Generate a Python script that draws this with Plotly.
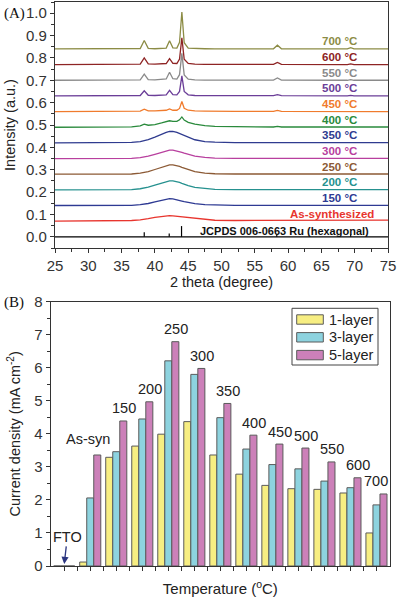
import plotly.graph_objects as go

# ---------------- Panel A : XRD patterns ----------------
two_theta = [25, 30, 35, 36.5, 37.8, 38.4, 39.0, 40.0, 41.0, 41.7, 42.2, 42.7, 43.3, 43.7,
             44.05, 44.4, 45.0, 46.0, 47.5, 49.0, 52, 57.8, 58.4, 59.0, 68.9, 69.4, 69.9, 75]

xrd_labels = ["As-synthesized", "150 °C", "200 °C", "250 °C", "300 °C", "350 °C",
              "400 °C", "450 °C", "500 °C", "550 °C", "600 °C", "700 °C"]
xrd_offsets = [0.07, 0.14, 0.21, 0.28, 0.35, 0.42, 0.49, 0.56, 0.63, 0.70, 0.77, 0.84]
xrd_colors = ["#e8352e", "#2e3a93", "#26918f", "#8c5a35", "#b83f9e", "#2f3b8f",
              "#2a8a3c", "#f07b2d", "#6b3e98", "#8a8a8a", "#8e2424", "#8c8c45"]

int_assyn = [0, 0.001, 0.000, 0.003, 0.006, 0.008, 0.011, 0.017, 0.022, 0.024, 0.025, 0.024, 0.022, 0.020,
             0.019, 0.017, 0.015, 0.012, 0.007, 0.004, 0.003, 0.004, 0.004, 0.004, 0.005, 0.005, 0.005, 0.005]
int_150 = [0, 0, 0, 0.001, 0.004, 0.006, 0.009, 0.016, 0.024, 0.028, 0.031, 0.030, 0.027, 0.023,
           0.020, 0.017, 0.013, 0.008, 0.004, 0.002, 0.001, 0.001, 0.002, 0.001, 0.001, 0.001, 0.001, 0.001]
int_200 = [0, 0, 0, 0.001, 0.005, 0.008, 0.012, 0.021, 0.031, 0.037, 0.040, 0.040, 0.037, 0.033,
           0.029, 0.025, 0.019, 0.011, 0.005, 0.002, 0.001, 0.001, 0.002, 0.001, 0.001, 0.001, 0.001, 0.001]
int_250 = [0, 0, 0, 0.001, 0.005, 0.008, 0.012, 0.021, 0.032, 0.038, 0.042, 0.042, 0.039, 0.035,
           0.031, 0.027, 0.020, 0.012, 0.005, 0.002, 0.001, 0.001, 0.002, 0.001, 0.001, 0.001, 0.001, 0.001]
int_300 = [0, 0, 0, 0.001, 0.004, 0.007, 0.011, 0.019, 0.029, 0.035, 0.038, 0.038, 0.035, 0.031,
           0.028, 0.024, 0.018, 0.011, 0.005, 0.002, 0.001, 0.001, 0.002, 0.001, 0.001, 0.001, 0.001, 0.001]
int_350 = [0, 0, 0, 0.002, 0.006, 0.010, 0.015, 0.026, 0.040, 0.047, 0.051, 0.051, 0.047, 0.042,
           0.038, 0.032, 0.024, 0.014, 0.006, 0.003, 0.001, 0.001, 0.002, 0.001, 0.001, 0.001, 0.001, 0.001]
int_400 = [0, 0, 0, 0.002, 0.006, 0.014, 0.009, 0.012, 0.019, 0.024, 0.029, 0.026, 0.026, 0.033,
           0.046, 0.032, 0.022, 0.014, 0.007, 0.004, 0.002, 0.001, 0.004, 0.001, 0.001, 0.002, 0.001, 0.001]
int_450 = [0, 0, 0, 0.001, 0.002, 0.011, 0.003, 0.003, 0.004, 0.006, 0.012, 0.006, 0.006, 0.014,
           0.045, 0.015, 0.006, 0.003, 0.002, 0.001, 0.001, 0.001, 0.005, 0.001, 0.000, 0.002, 0.000, 0.000]
int_500 = [0, 0, 0, 0.000, 0.002, 0.023, 0.003, 0.002, 0.003, 0.005, 0.025, 0.006, 0.005, 0.020,
           0.090, 0.020, 0.005, 0.002, 0.001, 0.001, 0.000, 0.001, 0.006, 0.001, 0.000, 0.002, 0.000, 0.000]
int_550 = [0, 0, 0, 0.000, 0.002, 0.028, 0.003, 0.002, 0.003, 0.006, 0.036, 0.007, 0.005, 0.025,
           0.120, 0.024, 0.005, 0.002, 0.001, 0.001, 0.000, 0.001, 0.010, 0.001, 0.000, 0.003, 0.000, 0.000]
int_600 = [0, 0, 0, 0.000, 0.002, 0.030, 0.003, 0.002, 0.003, 0.005, 0.027, 0.006, 0.005, 0.025,
           0.120, 0.024, 0.005, 0.002, 0.001, 0.001, 0.000, 0.001, 0.010, 0.001, 0.000, 0.003, 0.000, 0.000]
int_700 = [0, 0, 0, 0.000, 0.002, 0.038, 0.003, 0.001, 0.002, 0.004, 0.037, 0.005, 0.004, 0.030,
           0.165, 0.028, 0.004, 0.002, 0.001, 0.000, 0.000, 0.001, 0.017, 0.001, 0.000, 0.006, 0.000, 0.000]
xrd_intensities = [int_assyn, int_150, int_200, int_250, int_300, int_350,
                   int_400, int_450, int_500, int_550, int_600, int_700]

jcpds_pos = [38.4, 42.15, 44.0, 58.3, 69.4]
jcpds_height = [0.020, 0.015, 0.048, 0.012, 0.012]
jcpds_label = "JCPDS 006-0663 Ru (hexagonal)"

# ---------------- Panel B : current density ----------------
temps = ["FTO", "As-syn", "150", "200", "250", "300", "350", "400", "450", "500", "550", "600", "700"]
layer1 = [0, 0.12, 3.29, 3.63, 3.99, 4.37, 3.36, 2.78, 2.44, 2.34, 2.32, 2.21, 1.00]
layer3 = [0, 2.06, 3.46, 4.45, 6.21, 5.80, 4.49, 3.54, 3.07, 2.94, 2.57, 2.37, 1.85]
layer5 = [0, 3.36, 4.39, 4.97, 6.79, 5.98, 4.92, 3.96, 3.69, 3.57, 3.15, 2.67, 2.18]
series_names = ["1-layer", "3-layer", "5-layer"]
series_colors = ["#f7ee82", "#8dd3df", "#cc80b9"]

FONT = "Liberation Sans, Arial, sans-serif"
W, H = 398, 599


def px_x(p):
    return p / W


def px_y(p):
    return 1 - p / H


fig = go.Figure()

# XRD curves
for lab, off, col, ints in zip(xrd_labels, xrd_offsets, xrd_colors, xrd_intensities):
    fig.add_trace(go.Scatter(x=two_theta, y=[off + v for v in ints], mode="lines",
                             line=dict(color=col, width=1.3), showlegend=False,
                             xaxis="x", yaxis="y", hoverinfo="skip"))

# JCPDS reference sticks
stick_x, stick_y = [], []
for p, h in zip(jcpds_pos, jcpds_height):
    stick_x += [p, p, None]
    stick_y += [0, h, None]
fig.add_trace(go.Scatter(x=stick_x, y=stick_y, mode="lines", line=dict(color="black", width=1.2),
                         showlegend=False, xaxis="x", yaxis="y", hoverinfo="skip"))

# Bars
for name, vals, col in zip(series_names, [layer1, layer3, layer5], series_colors):
    fig.add_trace(go.Bar(x=list(range(len(temps))), y=vals, name=name,
                         marker=dict(color=col, line=dict(color="#5a5a5a", width=1)),
                         showlegend=False, xaxis="x2", yaxis="y2"))

annotations = []
shapes = []
# Curve labels
for i, (lab, off, col) in enumerate(zip(xrd_labels, xrd_offsets, xrd_colors)):
    xr = 73.25 if i == 0 else 70.6
    annotations.append(dict(x=xr, y=off + 0.034, xref="x", yref="y", text=lab, showarrow=False,
                            xanchor="right", yanchor="middle",
                            font=dict(family=FONT, size=11.5, color=col, weight="bold")))
annotations.append(dict(x=72.4, y=0.025, xref="x", yref="y", text=jcpds_label, showarrow=False,
                        xanchor="right", yanchor="middle",
                        font=dict(family=FONT, size=11, color="#111", weight="bold")))

# Bar group labels
for i, t in enumerate(temps):
    if i == 0:
        continue
    top = layer5[i]
    if t == "As-syn":
        xx, yy = i - 0.07, top + 0.48
    else:
        xx, yy = min(i + 0.3, len(temps) - 1.0), top + 0.38
    annotations.append(dict(x=xx, y=yy, xref="x2", yref="y2", text=t, showarrow=False,
                            xanchor="center", yanchor="middle",
                            font=dict(family=FONT, size=14.5, color="#222")))

# FTO label with its arrow
annotations.append(dict(x=0, y=0.06, ax=0.12, ay=0.88, xref="x2", yref="y2", axref="x2", ayref="y2",
                        text="FTO", showarrow=True, arrowhead=2, arrowsize=1.1, arrowwidth=1.3,
                        arrowcolor="#2b3580", standoff=0, startstandoff=0,
                        font=dict(family=FONT, size=14.5, color="#222")))

# Custom legend (wide swatches like the original)
shapes.append(dict(type="rect", xref="paper", yref="paper",
                   x0=px_x(292), x1=px_x(378), y0=px_y(365), y1=px_y(308.3),
                   line=dict(color="#444", width=1), fillcolor="white", layer="above"))
for k, (name, col) in enumerate(zip(series_names, series_colors)):
    cy = 319.5 + 17.8 * k
    shapes.append(dict(type="rect", xref="paper", yref="paper",
                       x0=px_x(296.7), x1=px_x(323.3), y0=px_y(cy + 4.7), y1=px_y(cy - 4.7),
                       line=dict(color="#5a5a5a", width=1), fillcolor=col, layer="above"))
    annotations.append(dict(x=px_x(327), y=px_y(cy), xref="paper", yref="paper", text=name,
                            showarrow=False, xanchor="left", yanchor="middle",
                            font=dict(family=FONT, size=14.5, color="#222")))

# Panel labels
annotations.append(dict(x=0.005, y=px_y(13), xref="paper", yref="paper", text="(A)", showarrow=False,
                        xanchor="left", yanchor="middle",
                        font=dict(family="Liberation Serif, Times New Roman, serif", size=15, color="#111")))
annotations.append(dict(x=0.005, y=px_y(302), xref="paper", yref="paper", text="(B)", showarrow=False,
                        xanchor="left", yanchor="middle",
                        font=dict(family="Liberation Serif, Times New Roman, serif", size=15, color="#111")))

# Baseline of panel A (y = 0 across the plot)
shapes.append(dict(type="line", xref="x", yref="y", x0=25, x1=75, y0=0, y1=0,
                   line=dict(color="black", width=1.2)))

axis_common = dict(showline=True, linecolor="#333", linewidth=1.2, mirror=True, ticks="outside",
                   tickcolor="#333", ticklen=4, tickwidth=1, showgrid=False, zeroline=False,
                   tickfont=dict(family=FONT, size=15, color="#333"), automargin=False)

fig.update_layout(
    width=W, height=H,
    margin=dict(l=0, r=0, t=0, b=0),
    paper_bgcolor="white", plot_bgcolor="white",
    barmode="group", bargap=0.19, bargroupgap=0,
    showlegend=False,
    font=dict(family=FONT, color="#222"),
    xaxis=dict(domain=[px_x(55), px_x(388)], anchor="y", range=[25, 75], dtick=5, tick0=25,
               minor=dict(dtick=2.5, ticks="outside", ticklen=2.5, tickcolor="#333"),
               title=dict(text="2 theta (degree)", font=dict(family=FONT, size=14.5, color="#222"), standoff=3),
               **axis_common),
    yaxis=dict(domain=[px_y(248), px_y(2)], anchor="x", range=[-0.05, 1.05], dtick=0.1, tick0=0,
               tickformat=".1f",
               minor=dict(dtick=0.05, ticks="outside", ticklen=2.5, tickcolor="#333"),
               title=dict(text="Intensity (a.u.)", font=dict(family=FONT, size=14.5, color="#222"), standoff=6),
               **axis_common),
    xaxis2=dict(domain=[px_x(50.7), px_x(390)], anchor="y2", range=[-0.52, 12.52],
                tickvals=[k / 2 for k in range(0, 25)], showticklabels=False,
                title=dict(text="Temperature (<sup>o</sup>C)", font=dict(family=FONT, size=15, color="#222"),
                           standoff=13),
                **axis_common),
    yaxis2=dict(domain=[px_y(566), px_y(301.7)], anchor="x2", range=[0, 8], dtick=1,
                minor=dict(dtick=0.5, ticks="outside", ticklen=2.5, tickcolor="#333"),
                title=dict(text="Current density (mA cm<sup>-2</sup>)",
                           font=dict(family=FONT, size=14.5, color="#222"), standoff=10),
                **axis_common),
    annotations=annotations,
    shapes=shapes,
)

html = fig.to_html(full_html=True, include_plotlyjs=True, config={"displayModeBar": False})
html = html.replace("<head>", "<head><style>html,body{margin:0;padding:0;overflow:hidden;}</style>", 1)
with open("out.html", "w", encoding="utf-8") as f:
    f.write(html)
